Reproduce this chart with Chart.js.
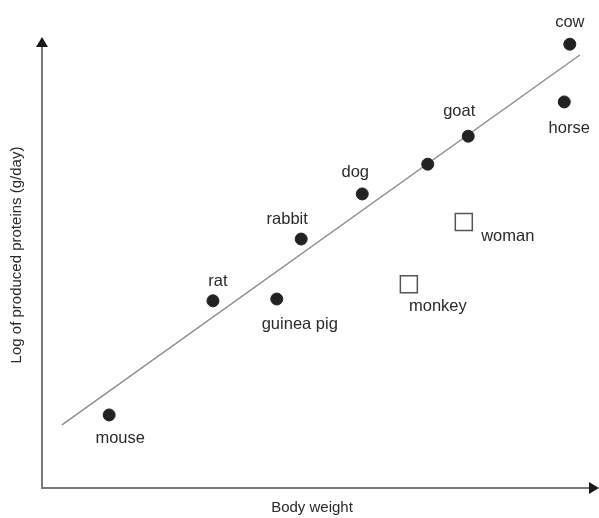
<!DOCTYPE html>
<html>
<head>
<meta charset="utf-8">
<script src="https://cdn.jsdelivr.net/npm/chart.js@4"></script>
<style>
  html, body { margin: 0; padding: 0; background: #fff; overflow: hidden; }
  #wrap { width: 599px; height: 518px; }
  canvas { display: block; }
</style>
</head>
<body>
<div id="wrap"><canvas id="chart" width="599" height="518"></canvas></div>
<script>
// animals (arbitrary units)
const animals = ['mouse', 'rat', 'guinea pig', 'rabbit', 'dog', '', 'goat', 'horse', 'cow'];
const animalWeight = [1.21, 3.08, 4.23, 4.67, 5.77, 6.95, 7.68, 9.41, 9.51];
const animalProtein = [1.62, 4.15, 4.19, 5.52, 6.52, 7.18, 7.80, 8.56, 9.84];

const primates = ['monkey', 'woman'];
const primateWeight = [6.61, 7.60];
const primateProtein = [4.52, 5.90];

const fitWeight = [0.36, 9.69];
const fitProtein = [1.40, 9.60];

// label offsets in pixels from each point
const labelOffsets = {
    'mouse': [11, 24], 'rat': [5, -19], 'guinea pig': [23, 25], 'rabbit': [-14, -20],
    'dog': [-7, -21], 'goat': [-9, -25], 'horse': [5, 27], 'cow': [0, -22],
    'monkey': [29, 22], 'woman': [44, 15]
};

const toPoints = (xs, ys) => xs.map((x, i) => ({ x: x, y: ys[i] }));

const LABEL_FONT = '16.5px "Liberation Sans", Arial, sans-serif';
const TITLE_FONT = '15px "Liberation Sans", Arial, sans-serif';

const annotate = {
    id: 'annotate',
    afterDatasetsDraw(chart) {
        const ctx = chart.ctx;
        const a = chart.chartArea;
        ctx.save();

        // axes with arrow heads
        ctx.strokeStyle = '#7a7a7a';
        ctx.lineWidth = 2;
        ctx.beginPath();
        ctx.moveTo(a.left, a.top + 8);
        ctx.lineTo(a.left, a.bottom);
        ctx.lineTo(a.right - 6, a.bottom);
        ctx.stroke();
        ctx.fillStyle = '#1a1a1a';
        ctx.beginPath();
        ctx.moveTo(a.left, a.top);
        ctx.lineTo(a.left - 6, a.top + 10);
        ctx.lineTo(a.left + 6, a.top + 10);
        ctx.closePath();
        ctx.fill();
        ctx.beginPath();
        ctx.moveTo(a.right + 2, a.bottom);
        ctx.lineTo(a.right - 8, a.bottom - 6);
        ctx.lineTo(a.right - 8, a.bottom + 6);
        ctx.closePath();
        ctx.fill();

        // point labels
        ctx.font = LABEL_FONT;
        ctx.fillStyle = '#2a2a2a';
        ctx.textAlign = 'center';
        ctx.textBaseline = 'middle';
        const groups = [[0, animals], [1, primates]];
        groups.forEach(([di, names]) => {
            chart.getDatasetMeta(di).data.forEach((el, i) => {
                const name = names[i];
                if (!name) return;
                const off = labelOffsets[name];
                ctx.fillText(name, el.x + off[0], el.y + off[1]);
            });
        });

        // axis titles
        ctx.font = TITLE_FONT;
        ctx.fillText('Body weight', 312, 508);
        ctx.translate(17, 255);
        ctx.rotate(-Math.PI / 2);
        ctx.fillText('Log of produced proteins (g/day)', 0, 0);
        ctx.restore();
    }
};

new Chart(document.getElementById('chart').getContext('2d'), {
    type: 'scatter',
    data: {
        datasets: [
            {
                data: toPoints(animalWeight, animalProtein),
                backgroundColor: '#222',
                borderColor: '#222',
                borderWidth: 1,
                pointRadius: 6,
                pointStyle: 'circle'
            },
            {
                data: toPoints(primateWeight, primateProtein),
                backgroundColor: '#fff',
                borderColor: '#555',
                borderWidth: 1.5,
                pointRadius: 12,
                pointStyle: 'rect'
            },
            {
                type: 'line',
                data: toPoints(fitWeight, fitProtein),
                borderColor: '#8a8a8a',
                borderWidth: 1.3,
                pointRadius: 0,
                fill: false
            }
        ]
    },
    options: {
        responsive: false,
        animation: false,
        layout: { autoPadding: false, padding: { left: 42, right: 2, top: 37, bottom: 30 } },
        plugins: { legend: { display: false }, tooltip: { enabled: false } },
        scales: {
            x: { type: 'linear', display: false, min: 0, max: 10 },
            y: { type: 'linear', display: false, min: 0, max: 10 }
        }
    },
    plugins: [annotate]
});
</script>
</body>
</html>
